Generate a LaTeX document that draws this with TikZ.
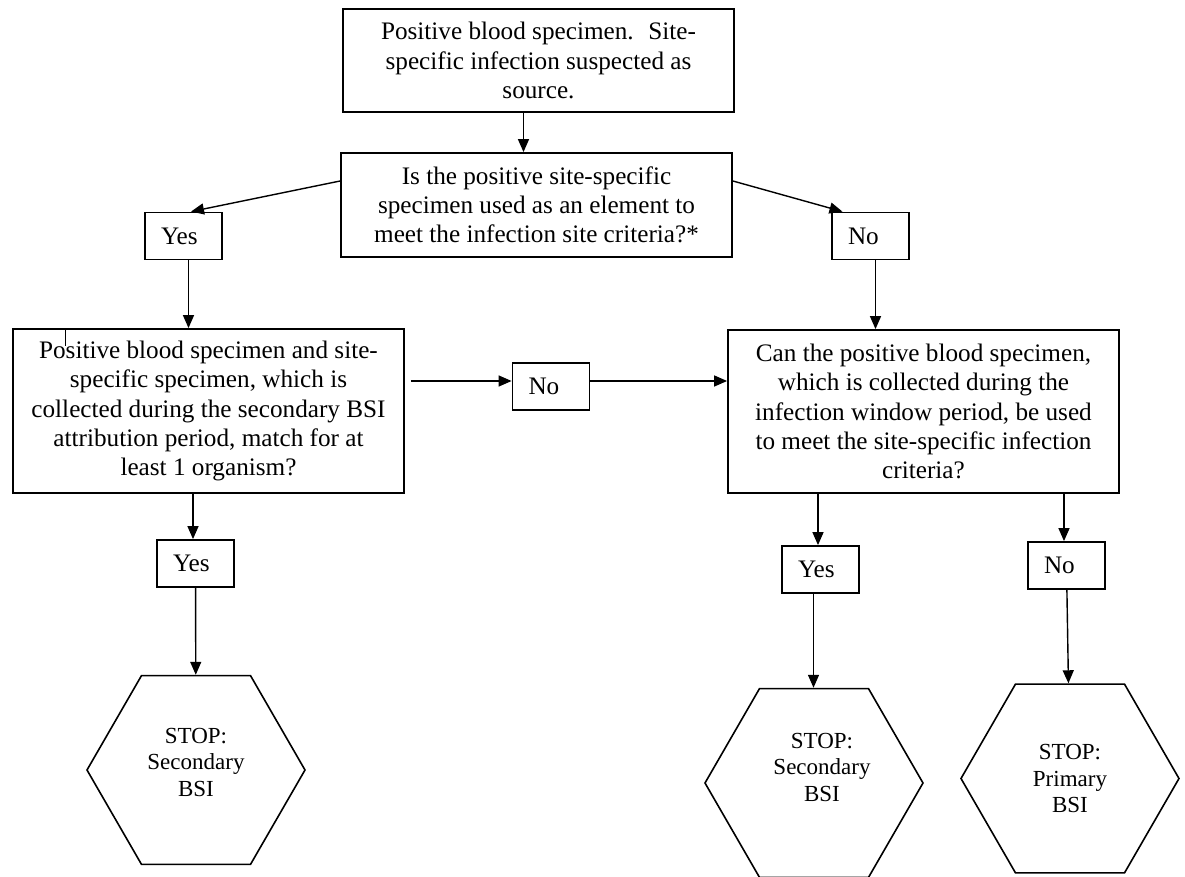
\documentclass[tikz,border=0pt]{standalone}
\usepackage{fontspec}
\setmainfont{Liberation Serif}
\usetikzlibrary{arrows.meta,shapes.geometric}

\begin{document}
\begin{tikzpicture}[x=0.5pt,y=-0.5pt,
    font=\fontsize{12.6}{14.6}\selectfont,
    qbox/.style={draw,line width=0.9pt,inner sep=0pt,minimum width=195.5pt,align=center},
    answer/.style={draw,line width=0.9pt,minimum width=38.5pt,minimum height=23.5pt,text width=22.5pt,inner xsep=8pt,inner ysep=0pt,align=left},
    stopbox/.style={draw,line width=0.8pt,regular polygon,regular polygon sides=6,minimum size=109pt,inner sep=0pt,align=center,font=\fontsize{11.5}{13.3}\selectfont},
    flow/.style={line width=0.7pt,-{Triangle[length=6.5pt,width=5.5pt]}}]
    \useasboundingbox (0,0) rectangle (1185,877);
    \node[qbox,minimum height=51.5pt] (src) at (538.5,60.5) {Positive blood specimen.~ Site-\\specific infection suspected as\\source.};
    \node[qbox,minimum height=52pt] (q1) at (536.5,205) {Is the positive site-specific\\specimen used as an element to\\meet the infection site criteria?*};
    \node[answer] (yes1) at (183.5,236) {Yes};
    \node[answer] (no1) at (870.5,236) {No};
    \node[qbox,minimum height=82pt] (matchq) at (208.5,411) {Positive blood specimen and site-\\specific specimen, which is\\collected during the secondary BSI\\attribution period, match for at\\least 1 organism?};
    \node[answer] (no2) at (551,386.5) {No};
    \node[qbox,minimum height=81.5pt] (windowq) at (923.5,411.5) {Can the positive blood specimen,\\which is collected during the\\infection window period, be used\\to meet the site-specific infection\\criteria?};
    \node[answer] (yes2) at (195.5,563.5) {Yes};
    \node[answer] (yes3) at (820.5,569.5) {Yes};
    \node[answer] (no3) at (1066.5,565.5) {No};
    \node[stopbox,text depth=8pt] (stop1) at (196,770) {STOP:\\Secondary\\BSI};
    \node[stopbox,text depth=16pt] (stop2) at (814,783) {\hspace*{8pt}STOP:\\\hspace*{8pt}Secondary\\\hspace*{8pt}BSI};
    \node[stopbox] (stop3) at (1070,778.5) {STOP:\\Primary\\BSI};
    \draw[flow] ([xshift=-7.5pt]src.south) -- ([xshift=-7.5pt]src.south |- q1.north);
    \draw[flow] ([yshift=12pt]q1.west) -- ([xshift=3.75pt]yes1.north);
    \draw[flow] ([yshift=12pt]q1.east) -- ([xshift=-14pt]no1.north);
    \draw[flow] ([xshift=2.5pt]yes1.south) -- ([xshift=2.5pt]yes1.south |- matchq.north);
    \draw[flow] ([xshift=2.5pt]no1.south) -- ([xshift=2.5pt]no1.south |- windowq.north);
    \draw[flow] ([shift={(3pt,2.75pt)}]matchq.east |- no2.west) -- ([yshift=2.75pt]no2.west);
    \draw[flow] ([yshift=2.75pt]no2.east) -- ([yshift=2.75pt]no2.east -| windowq.west);
    \draw ([xshift=26.5pt]matchq.north west) -- ++(0,-9pt);
    \draw[flow] ([xshift=-1.25pt]yes2.north |- matchq.south) -- ([xshift=-1.25pt]yes2.north);
    \draw[flow] ([xshift=-1.25pt]yes3.north |- windowq.south) -- ([xshift=-1.25pt]yes3.north);
    \draw[flow] ([xshift=-1.25pt]no3.north |- windowq.south) -- ([xshift=-1.25pt]no3.north);
    \draw[flow] (yes2) -- (stop1);
    \draw[flow] ([xshift=-3.5pt]yes3.south) -- ([xshift=-3.5pt]yes3.south |- stop2.north);
    \draw[flow] (no3) -- (stop3);
\end{tikzpicture}
\end{document}
